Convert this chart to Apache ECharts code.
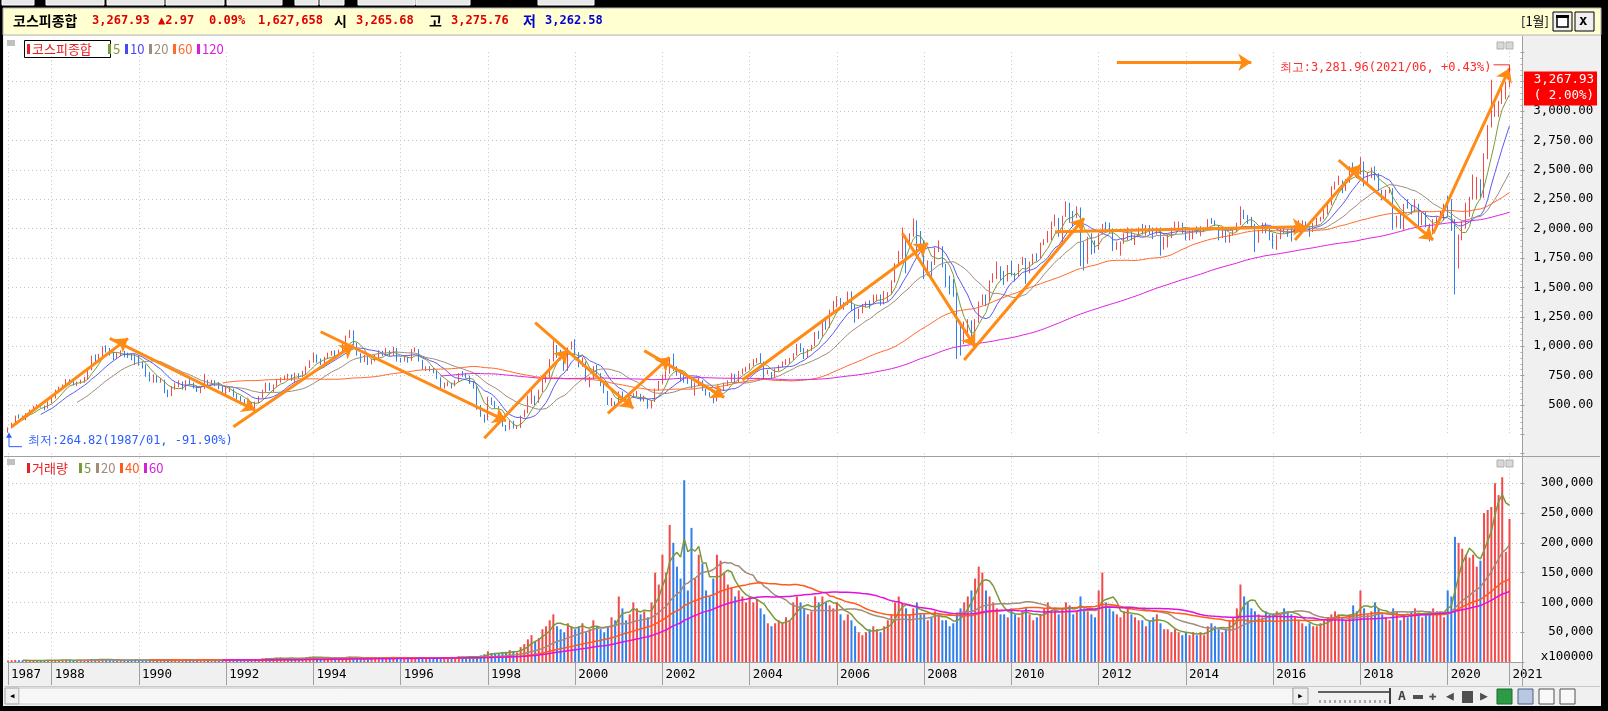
<!DOCTYPE html>
<html>
<head>
<meta charset="utf-8">
<script src="https://cdn.jsdelivr.net/npm/echarts@6/dist/echarts.min.js"></script>
<style>
html,body{margin:0;padding:0;background:#000;}
#box01{width:1608px;height:711px;}
</style>
</head>
<body>
<div id="box01"></div>
<script>
// 코스피종합 월봉 1987/01 ~ 2021/06
var firstOpen = 264.82;
var closes = [
  307,345,405,400,391,423,455,484,496,490,476,525.11,          // 1987
  560,620,640,660,700,690,680,690,700,730,800,907.2,           // 1988
  880,920,990,970,940,910,930,950,925,920,910,909.72,          // 1989
  850,830,760,720,740,700,710,620,580,640,660,696.11,          // 1990
  640,700,680,650,620,640,700,690,700,690,650,610.92,          // 1991
  620,630,580,560,540,520,520,470,520,560,620,678.44,          // 1992
  630,660,700,720,730,750,720,760,740,770,820,866.18,          // 1993
  920,880,860,900,930,950,930,960,1010,1080,1130,1027.37,      // 1994
  930,880,910,850,880,910,950,930,960,930,980,882.94,          // 1995
  880,900,880,960,970,880,810,810,800,790,730,651.22,          // 1996
  680,680,670,700,760,750,740,690,650,470,410,376.31,          // 1997
  560,520,480,400,320,300,360,310,310,400,440,562.46,          // 1998
  570,530,620,720,740,880,1000,950,920,800,980,1028.07,        // 1999
  940,830,860,725,730,820,760,690,610,510,520,504.62,          // 2000
  600,570,520,570,590,590,540,545,480,530,630,693.7,           // 2001
  725,770,880,800,795,740,720,710,650,670,690,627.55,          // 2002
  590,575,535,600,630,670,700,760,700,780,800,810.71,          // 2003
  850,880,880,860,770,770,735,800,835,845,880,895.92,          // 2004
  930,1010,965,912,970,1008,1110,1080,1220,1160,1300,1379.37,  // 2005
  1400,1340,1360,1420,1340,1300,1300,1350,1370,1365,1430,1434.46, // 2006
  1360,1420,1450,1550,1700,1740,1930,1870,1950,2060,1900,1897.13, // 2007
  1625,1710,1700,1830,1850,1675,1595,1475,1450,1113,1076,1124.47, // 2008
  1162,1063,1206,1369,1395,1390,1557,1592,1673,1581,1555,1682.77, // 2009
  1602,1594,1693,1741,1641,1698,1759,1742,1873,1883,1905,2051,    // 2010
  2069,1939,2107,2192,2142,2100,2133,1880,1770,1909,1847,1825.74, // 2011
  1956,2030,2014,1981,1843,1854,1881,1905,1996,1912,1933,1997.05, // 2012
  1961,2026,2005,1963,2001,1863,1914,1926,2005,2040,2045,2011.34, // 2013
  1941,1980,1986,1961,1995,2002,2076,2068,2020,1964,1981,1915.59, // 2014
  1949,1986,2041,2127,2115,2074,2030,1941,1963,2029,1992,1961.31, // 2015
  1912,1917,1996,1994,1983,1970,2016,2035,2044,2008,1983,2026.46, // 2016
  2067,2092,2160,2205,2347,2392,2403,2363,2394,2523,2476,2467.49, // 2017
  2566,2427,2445,2515,2423,2326,2295,2322,2343,2030,2097,2041.04, // 2018
  2205,2195,2141,2204,2041,2131,2025,1968,2063,2083,2088,2197.67, // 2019
  2119,1987,1755,1947,2030,2108,2249,2326,2328,2267,2591,2873.47, // 2020
  2976,3013,3061,3148,3203.92,3267.93                             // 2021
];
var highs = [
  310,350,410,420,410,430,460,492,505,510,495,530,
  570,630,655,675,720,720,705,700,715,740,810,920,
  930,935,1000,1007.77,985,955,945,965,960,945,935,930,
  920,870,845,780,760,750,730,715,630,660,690,710,
  700,710,720,690,665,655,765,715,715,710,695,660,
  660,650,640,595,575,550,535,525,530,575,630,690,
  690,675,715,735,750,765,760,775,770,790,830,880,
  945,930,895,910,945,960,965,970,1025,1090,1138.75,1135,
  1030,940,925,915,895,925,965,960,985,965,995,985,
  900,915,910,975,990,975,885,830,830,815,795,735,
  690,700,690,710,770,790,770,750,700,660,500,420,
  570,565,535,490,405,330,370,365,330,410,460,580,
  630,580,630,730,760,890,1050,1010,970,930,990,1040,
  1060,950,905,870,740,830,840,770,700,620,560,530,
  615,615,580,580,600,620,595,580,550,540,640,705,
  760,790,900,937.61,830,800,770,740,720,690,730,710,
  640,610,580,610,640,690,710,770,765,790,810,825,
  855,890,900,940,870,800,780,810,840,870,890,900,
  940,1020,1025,985,975,1012,1120,1130,1225,1230,1310,1385,
  1425,1410,1375,1465,1465,1350,1320,1360,1380,1390,1440,1440,
  1440,1470,1460,1560,1705,1810,2010,1940,1960,2085.45,2070,1980,
  1900,1730,1720,1840,1900,1850,1700,1600,1570,1460,1200,1210,
  1230,1220,1230,1380,1440,1440,1560,1620,1720,1680,1640,1690,
  1725,1625,1700,1760,1750,1720,1785,1790,1880,1910,1980,2060,
  2120,2090,2110,2231.47,2220,2150,2190,2180,1890,1930,1960,1900,
  1960,2040,2057,2050,2000,1890,1890,1960,2010,2000,1950,2010,
  2040,2030,2030,2010,2010,2010,1930,1950,2010,2060,2060,2050,
  2010,1985,1990,2020,2020,2010,2080,2090,2070,2030,1990,2000,
  1960,1990,2050,2190,2160,2110,2100,2040,1990,2050,2050,2000,
  1960,1950,2000,2020,1990,2020,2030,2070,2070,2060,2010,2050,
  2090,2100,2180,2210,2360,2400,2450,2410,2420,2530,2561,2520,
  2607.1,2570,2480,2520,2530,2470,2330,2330,2350,2340,2110,2130,
  2210,2250,2200,2250,2210,2140,2140,2040,2080,2100,2150,2210,
  2280,2250,2080,1950,2060,2220,2270,2460,2440,2420,2640,2880,
  3266,3100,3085,3220,3250,3281.96
];
var lows = [
  264.82,302,340,385,380,370,415,448,470,478,455,470,
  515,555,610,628,650,670,665,660,680,690,720,795,
  860,865,910,945,920,880,890,915,905,900,880,840,
  835,810,740,700,690,690,690,600,566,575,630,650,
  630,625,670,640,610,600,635,670,675,660,635,600,
  595,610,570,550,530,510,500,459,465,515,555,610,
  620,610,650,690,710,720,705,690,725,735,760,815,
  860,860,840,850,890,920,915,920,950,1000,1070,1010,
  920,860,865,840,845,870,900,915,925,915,920,870,
  860,870,860,875,950,870,800,790,785,770,720,640,
  640,660,640,660,695,740,730,680,640,460,400,350,
  370,500,470,390,315,277.37,290,300,295,305,395,430,
  510,500,520,610,690,730,870,900,880,790,790,970,
  920,820,825,700,650,720,750,660,600,500,490,480,
  500,560,510,490,560,570,530,530,468.76,470,525,620,
  680,720,765,790,750,700,690,680,640,580,660,620,
  580,570,515.24,530,590,620,660,695,685,695,760,780,
  800,830,855,855,720,760,720,730,790,820,840,850,
  880,920,950,890,900,960,1000,1060,1075,1140,1155,1290,
  1330,1320,1310,1350,1300,1200,1230,1280,1330,1320,1360,1380,
  1345,1355,1380,1440,1540,1690,1740,1620,1850,1930,1750,1850,
  1570,1600,1570,1690,1800,1670,1500,1440,1420,892.16,920,1020,
  1100,1018,1060,1200,1350,1340,1380,1540,1570,1555,1520,1550,
  1600,1550,1590,1690,1530,1620,1690,1720,1740,1860,1880,1900,
  2020,1930,1880,2100,2050,2020,2090,1680,1644,1700,1780,1790,
  1820,1950,1990,1960,1810,1820,1770,1870,1900,1900,1860,1930,
  1950,1940,1950,1910,1950,1770,1820,1840,1920,2000,1990,1960,
  1900,1900,1910,1955,1935,1970,1990,2040,2020,1900,1920,1880,
  1880,1940,1970,2030,2080,2040,2010,1800,1880,1960,1960,1900,
  1830,1820,1910,1960,1930,1890,1960,2010,1990,2000,1930,1970,
  2020,2060,2080,2120,2200,2330,2370,2300,2320,2390,2470,2430,
  2460,2360,2390,2430,2410,2320,2240,2250,2300,1990,2010,2000,
  1990,2170,2120,2140,2020,2030,2010,1890,1950,2020,2080,2070,
  2100,1980,1439.43,1660,1900,2000,2100,2250,2250,2260,2260,2590,
  2860,2950,2950,3060,3100,3200
];
// 거래량 (표시 단위)
var volumes = [
  2500,3000,3500,3000,2500,2500,2000,3000,3000,2500,2000,3500,
  3000,3500,3000,3000,3500,3000,2500,2500,3000,3000,4000,5000,
  4500,4000,4500,4000,3500,3000,3000,3500,3000,3000,3000,4000,
  3500,3000,3000,3000,3500,2500,2500,3000,2500,3000,3500,3000,
  3000,3500,3000,3000,3000,3000,4000,3500,3000,3000,3000,3000,
  3500,4000,3500,3500,3000,3000,3500,3000,4500,5000,6000,6500,
  6000,5500,7000,7500,6500,6000,6000,6500,6000,7000,8000,9000,
  9000,7000,6500,7000,7500,7000,6500,7000,8000,8500,9000,7500,
  6500,6000,6500,6000,7000,7000,8000,7000,7500,7000,8000,7000,
  6500,6500,6000,7500,8000,7000,6000,6000,6500,6000,6500,7000,
  7000,7500,7000,8000,9500,9000,8500,8000,8000,10000,11000,13000,
  18000,15000,14000,14000,16000,17000,20000,18000,16000,25000,30000,38000,
  45000,35000,40000,55000,60000,70000,80000,60000,55000,50000,65000,60000,
  55000,60000,65000,50000,55000,70000,60000,55000,50000,60000,75000,70000,
  110000,90000,70000,80000,100000,90000,80000,85000,75000,100000,150000,130000,
  180000,150000,230000,200000,160000,140000,305000,120000,225000,140000,180000,165000,
  120000,110000,140000,180000,170000,150000,130000,125000,110000,120000,110000,100000,
  110000,100000,105000,90000,80000,65000,60000,65000,70000,65000,75000,70000,
  100000,110000,100000,90000,80000,85000,110000,100000,110000,100000,95000,90000,
  100000,80000,70000,80000,70000,60000,50000,45000,50000,55000,60000,55000,
  50000,60000,70000,80000,100000,110000,100000,90000,80000,90000,100000,80000,
  80000,70000,75000,85000,80000,70000,70000,60000,65000,80000,90000,100000,
  110000,120000,140000,160000,150000,120000,110000,100000,90000,80000,80000,75000,
  90000,80000,75000,85000,90000,80000,70000,75000,80000,90000,100000,85000,
  90000,80000,90000,100000,95000,80000,85000,110000,90000,85000,80000,75000,
  120000,150000,100000,90000,85000,80000,75000,85000,90000,80000,75000,70000,
  70000,60000,70000,75000,80000,65000,55000,55000,50000,55000,50000,45000,
  50000,45000,50000,45000,50000,45000,60000,65000,60000,55000,50000,55000,
  70000,75000,90000,130000,110000,100000,90000,85000,80000,75000,85000,80000,
  80000,85000,80000,90000,85000,80000,75000,70000,65000,60000,65000,60000,
  60000,65000,70000,75000,80000,85000,80000,75000,70000,80000,95000,85000,
  120000,90000,80000,85000,100000,90000,80000,75000,70000,90000,85000,70000,
  80000,75000,85000,90000,80000,75000,80000,85000,90000,85000,80000,75000,
  120000,110000,210000,200000,190000,180000,175000,180000,160000,170000,250000,255000,
  260000,300000,280000,310000,185000,240000
];
var xTickMonths = ['1987/01','1988/01','1990/01','1992/01','1994/01','1996/01','1998/01','2000/01',
  '2002/01','2004/01','2006/01','2008/01','2010/01','2012/01','2014/01','2016/01','2018/01','2020/01','2021/06'];
var xTickLabels = ['1987','1988','1990','1992','1994','1996','1998','2000',
  '2002','2004','2006','2008','2010','2012','2014','2016','2018','2020','2021'];
// 추세 화살표 [시작월, 시작가, 끝월, 끝가]
var trendArrows = [
  ['1987/02', 315, '1989/10', 1067],
  ['1989/05', 1067, '1992/09', 457],
  ['1992/03', 315, '1994/12', 1010],
  ['1994/03', 1123, '1998/06', 365],
  ['1997/12', 217, '1999/11', 968],
  ['1999/02', 1200, '2001/05', 472],
  ['2000/10', 429, '2002/03', 906],
  ['2001/08', 962, '2003/06', 565],
  ['2003/11', 712, '2008/02', 1875],
  ['2007/07', 1960, '2009/03', 996],
  ['2008/12', 882, '2011/09', 2088],
  ['2011/01', 1973, '2016/10', 2016],
  ['2016/07', 1903, '2018/01', 2541],
  ['2017/07', 2583, '2019/09', 1903],
  ['2019/09', 1960, '2021/06', 3363],
  ['2012/06', 3414, '2015/07', 3414]
];

var UP = '#f24a4a', DOWN = '#2f7fec';
var FONT_K = '"Noto Sans CJK KR", sans-serif';
var FONT_N = '"DejaVu Sans Mono", monospace';

var months = [];
for (var y = 1987; months.length < closes.length; y++) {
  for (var m = 1; m <= 12 && months.length < closes.length; m++) {
    months.push(y + '/' + (m < 10 ? '0' : '') + m);
  }
}
var xCats = months.concat(['', '', '']);
var tickIdx = xTickMonths.map(function (s) { return months.indexOf(s); });
function isTick(idx) { return tickIdx.indexOf(idx) >= 0; }

// 시가는 전월 종가
var candles = [], volData = [];
for (var i = 0; i < closes.length; i++) {
  var o = i === 0 ? firstOpen : closes[i - 1];
  var c = closes[i];
  candles.push([o, c, Math.min(lows[i], o, c), Math.max(highs[i], o, c)]);
  volData.push({value: volumes[i], itemStyle: {color: c >= o ? UP : DOWN}});
}

function calcMA(dayCount, arr) {
  var result = [];
  for (var i = 0; i < arr.length; i++) {
    if (i < dayCount - 1) { result.push('-'); continue; }
    var sum = 0;
    for (var j = 0; j < dayCount; j++) sum += arr[i - j];
    result.push(+(sum / dayCount).toFixed(2));
  }
  return result;
}

function fmt2(v) {
  return v.toLocaleString('en-US', {minimumFractionDigits: 2, maximumFractionDigits: 2});
}

function maLine(name, period, arr, color, xi, width) {
  return {
    name: name, type: 'line', xAxisIndex: xi, yAxisIndex: xi,
    data: calcMA(period, arr), showSymbol: false, silent: true,
    lineStyle: {color: color, width: width || 1}, z: 3
  };
}

var myChart = echarts.init(document.getElementById('box01'));

// 화면 틀
var frame = [
  {type: 'rect', shape: {x: 3, y: 35, width: 1598, height: 671}, style: {fill: '#f0f0f0'}, z: -20},
  {type: 'rect', shape: {x: 3, y: 8, width: 1598, height: 27}, style: {fill: '#ffffd2', stroke: '#b4b4b4'}, z: -20},
  {type: 'rect', shape: {x: 4, y: 36, width: 1518, height: 420}, style: {fill: '#fff'}, z: -19},
  {type: 'rect', shape: {x: 4, y: 457, width: 1518, height: 205}, style: {fill: '#fff'}, z: -19},
  {type: 'line', shape: {x1: 4, y1: 456.5, x2: 1600, y2: 456.5}, style: {stroke: '#a0a0a0'}, z: 50},
  {type: 'line', shape: {x1: 1522.5, y1: 36, x2: 1522.5, y2: 686}, style: {stroke: '#a0a0a0'}, z: 50},
  {type: 'line', shape: {x1: 4, y1: 686.5, x2: 1600, y2: 686.5}, style: {stroke: '#c8c8c8'}, z: 50}
];
// 상단 탭 조각
[[2, 34], [46, 104], [107, 164], [166, 224], [227, 282], [295, 318], [320, 344], [358, 415], [416, 470], [538, 594]].forEach(function (t) {
  frame.push({type: 'rect', shape: {x: t[0], y: -2, width: t[1] - t[0], height: 7}, style: {fill: '#e8e8e8', stroke: '#fff'}, z: -18});
});

// 헤더
function txt(x, y, s, color, font, extra) {
  var st = {x: x, y: y, text: s, fill: color, font: font, verticalAlign: 'middle', align: 'left'};
  for (var k in extra) st[k] = extra[k];
  return {type: 'text', style: st, z: 60};
}
var hb = 'bold 14px ' + FONT_K, hn = 'bold 12px ' + FONT_N;
frame.push(
  txt(13, 21, '코스피종합', '#000', hb),
  txt(92, 21, '3,267.93', '#e00000', hn),
  txt(158, 21, '▲2.97', '#e00000', hn),
  txt(209, 21, '0.09%', '#e00000', hn),
  txt(258, 21, '1,627,658', '#e00000', hn),
  txt(334, 21, '시', '#000', hb),
  txt(356, 21, '3,265.68', '#e00000', hn),
  txt(429, 21, '고', '#000', hb),
  txt(451, 21, '3,275.76', '#e00000', hn),
  txt(523, 21, '저', '#0000d0', hb),
  txt(545, 21, '3,262.58', '#0000d0', hn),
  txt(1521, 21, '[1월]', '#000', '13px ' + FONT_K),
  {type: 'rect', shape: {x: 1553, y: 12, width: 19, height: 19}, style: {fill: '#f0f0f0', stroke: '#000'}, z: 60},
  {type: 'rect', shape: {x: 1557, y: 16, width: 11, height: 11}, style: {fill: '#fff', stroke: '#000', lineWidth: 1.5}, z: 61},
  {type: 'rect', shape: {x: 1556, y: 15, width: 13, height: 3}, style: {fill: '#000'}, z: 62},
  {type: 'rect', shape: {x: 1575, y: 12, width: 19, height: 19}, style: {fill: '#f0f0f0', stroke: '#000'}, z: 60},
  txt(1579, 21, 'x', '#000', 'bold 14px ' + FONT_N)
);

// 범례
function legendMarks(x, y, items) {
  var out = [];
  items.forEach(function (it) {
    out.push({type: 'rect', shape: {x: x, y: y - 5, width: 3, height: 10}, style: {fill: it[1]}, z: 60});
    x += 5;
    var w = it[2];
    out.push(txt(x, y, it[0], it[1], '13px ' + (it[3] || FONT_K)));
    x += w + 4;
  });
  return out;
}
frame.push(
  {type: 'rect', shape: {x: 7, y: 40, width: 8, height: 6}, style: {fill: '#c0c0c0'}, z: 60},
  {type: 'rect', shape: {x: 24.5, y: 40.5, width: 86, height: 17}, style: {fill: 'none', stroke: '#000'}, z: 60},
  {type: 'rect', shape: {x: 7, y: 459, width: 8, height: 6}, style: {fill: '#c0c0c0'}, z: 60}
);
frame = frame.concat(legendMarks(27, 49, [
  ['코스피종합', '#e82020', 72], ['5', '#7a9a3a', 8], ['10', '#4848f0', 15], ['20', '#a08c78', 15], ['60', '#ff6a2a', 15], ['120', '#d81ed8', 22]
]));
frame = frame.concat(legendMarks(27, 468, [
  ['거래량', '#e82020', 43], ['5', '#7a9a3a', 8], ['20', '#a08c78', 15], ['40', '#ff5a1a', 15], ['60', '#d81ed8', 15]
]));
// 패널 창 버튼
[42, 460].forEach(function (yy) {
  frame.push({type: 'rect', shape: {x: 1497, y: yy, width: 7, height: 7}, style: {fill: '#d8d8d8', stroke: '#b0b0b0'}, z: 60});
  frame.push({type: 'rect', shape: {x: 1506, y: yy, width: 7, height: 7}, style: {fill: '#d8d8d8', stroke: '#b0b0b0'}, z: 60});
});
// 스크롤바
frame.push(
  {type: 'rect', shape: {x: 5, y: 688, width: 14, height: 16}, style: {fill: '#f0f0f0', stroke: '#a0a0a0'}, z: 60},
  txt(9, 696, '◂', '#000', '11px ' + FONT_N),
  {type: 'rect', shape: {x: 19, y: 688, width: 1274, height: 16}, style: {fill: '#f7f7f7', stroke: '#c8c8c8'}, z: 60},
  {type: 'rect', shape: {x: 1293, y: 688, width: 15, height: 16}, style: {fill: '#f0f0f0', stroke: '#a0a0a0'}, z: 60},
  txt(1297, 696, '▸', '#000', '11px ' + FONT_N),
  {type: 'line', shape: {x1: 1318, y1: 692, x2: 1390, y2: 692}, style: {stroke: '#606060', lineWidth: 2}, z: 60},
  {type: 'line', shape: {x1: 1390, y1: 688, x2: 1390, y2: 704}, style: {stroke: '#404040', lineWidth: 2}, z: 60},
  txt(1398, 697, 'A', '#404040', 'bold 13px ' + FONT_N),
  {type: 'rect', shape: {x: 1413, y: 695, width: 10, height: 4}, style: {fill: '#505050'}, z: 60},
  txt(1429, 697, '✚', '#505050', 'bold 13px ' + FONT_N),
  txt(1446, 697, '◀', '#505050', '13px ' + FONT_N),
  {type: 'rect', shape: {x: 1462, y: 691, width: 11, height: 12}, style: {fill: '#505050'}, z: 60},
  txt(1480, 697, '▶', '#505050', '13px ' + FONT_N),
  {type: 'rect', shape: {x: 1497, y: 689, width: 15, height: 15}, style: {fill: '#2d9b45', stroke: '#1a6a2a'}, z: 60},
  {type: 'rect', shape: {x: 1518, y: 689, width: 15, height: 15}, style: {fill: '#b8c8e0', stroke: '#506080'}, z: 60},
  {type: 'rect', shape: {x: 1539, y: 689, width: 15, height: 15}, style: {fill: '#f8f8f8', stroke: '#505050'}, z: 60},
  {type: 'rect', shape: {x: 1560, y: 689, width: 15, height: 15}, style: {fill: '#f8f8f8', stroke: '#505050'}, z: 60}
);
for (var tk = 1320; tk <= 1388; tk += 5) {
  frame.push({type: 'line', shape: {x1: tk, y1: 700, x2: tk, y2: 703}, style: {stroke: '#606060'}, z: 60});
}

var gridL = 8, gridR = 87.6;
var dotted = {show: true, lineStyle: {color: '#c4c4c4', type: [1, 3], width: 1}};

var option = {
  backgroundColor: '#000',
  animation: false,
  graphic: {elements: frame},
  grid: [
    {left: gridL, right: gridR, top: 52.2, height: 382.2},
    {left: gridL, right: gridR, top: 453.4, height: 208.6}
  ],
  xAxis: [
    {
      type: 'category', gridIndex: 0, data: xCats, boundaryGap: false,
      axisLine: {show: false}, axisTick: {show: false}, axisLabel: {show: false},
      splitLine: {show: true, interval: function (idx) { return isTick(idx); }, lineStyle: dotted.lineStyle}
    },
    {
      type: 'category', gridIndex: 1, data: xCats, boundaryGap: false,
      axisLine: {show: true, lineStyle: {color: '#a0a0a0'}},
      axisTick: {show: true, length: 23, interval: function (idx) { return isTick(idx); }, lineStyle: {color: '#a0a0a0'}},
      axisLabel: {
        show: true, interval: function (idx) { return isTick(idx); }, align: 'left', margin: 6,
        padding: [0, 0, 0, 3], fontFamily: FONT_N, fontSize: 12.5, color: '#000',
        formatter: function (val, idx) { var k = tickIdx.indexOf(idx); return k >= 0 ? xTickLabels[k] : ''; }
      },
      splitLine: {show: true, interval: function (idx) { return isTick(idx); }, lineStyle: dotted.lineStyle}
    }
  ],
  yAxis: [
    {
      type: 'value', gridIndex: 0, position: 'right', min: 250, max: 3500, interval: 250,
      axisLine: {show: false},
      axisTick: {show: true, length: 4, inside: false, lineStyle: {color: '#a0a0a0'}},
      minorTick: {show: true, splitNumber: 5, length: 2, lineStyle: {color: '#b0b0b0'}},
      axisLabel: {
        margin: 73, align: 'right', fontFamily: FONT_N, fontSize: 12.5, color: '#000',
        formatter: function (v) { return (v >= 500 && v <= 3000) ? fmt2(v) : ''; }
      },
      splitLine: {show: true, showMinLine: false, showMaxLine: false, lineStyle: dotted.lineStyle}
    },
    {
      type: 'value', gridIndex: 1, position: 'right', min: 0, max: 350000, interval: 50000,
      axisLine: {show: false},
      axisTick: {show: true, length: 4, lineStyle: {color: '#a0a0a0'}},
      axisLabel: {
        margin: 73, align: 'right', fontFamily: FONT_N, fontSize: 12.5, color: '#000',
        formatter: function (v) {
          if (v === 0) return '{u|x100000}';
          return v <= 300000 ? v.toLocaleString('en-US') : '';
        },
        rich: {u: {fontFamily: FONT_N, fontSize: 12.5, color: '#000', padding: [0, 0, 10, 0]}}
      },
      splitLine: {show: true, showMinLine: false, showMaxLine: false, lineStyle: dotted.lineStyle}
    }
  ],
  series: [
    {
      name: '코스피종합', type: 'candlestick', xAxisIndex: 0, yAxisIndex: 0,
      data: candles, barWidth: 1.2, silent: true, z: 2,
      itemStyle: {color: UP, color0: DOWN, borderColor: UP, borderColor0: DOWN, borderWidth: 1}
    },
    maLine('5', 5, closes, '#7a9a3a', 0),
    maLine('10', 10, closes, '#5a5af2', 0),
    maLine('20', 20, closes, '#a08c78', 0),
    maLine('60', 60, closes, '#ff6a2a', 0),
    maLine('120', 120, closes, '#e020e0', 0),
    {
      name: 'trend', type: 'lines', coordinateSystem: 'cartesian2d', xAxisIndex: 0, yAxisIndex: 0,
      clip: false, silent: true, z: 10,
      symbol: ['none', 'arrow'], symbolSize: 13,
      lineStyle: {color: '#ff8a14', width: 3, opacity: 1, curveness: 0},
      data: trendArrows.map(function (a) {
        return {coords: [[months.indexOf(a[0]), a[1]], [months.indexOf(a[2]), a[3]]]};
      })
    },
    {
      name: '거래량', type: 'bar', xAxisIndex: 1, yAxisIndex: 1,
      data: volData, barWidth: 2, silent: true, z: 2
    },
    maLine('v5', 5, volumes, '#7a9a3a', 1, 1.5),
    maLine('v20', 20, volumes, '#a08c78', 1, 1.5),
    maLine('v40', 40, volumes, '#ff5a1a', 1, 1.5),
    maLine('v60', 60, volumes, '#e010e0', 1, 1.5)
  ]
};
myChart.setOption(option);

// 최고 / 최저 표시
var last = closes.length - 1;
var hiIdx = 0, loIdx = 0;
for (i = 0; i < candles.length; i++) {
  if (candles[i][3] > candles[hiIdx][3]) hiIdx = i;
  if (candles[i][2] < candles[loIdx][2]) loIdx = i;
}
var hiVal = candles[hiIdx][3], loVal = candles[loIdx][2];
var pHi = myChart.convertToPixel({gridIndex: 0}, [hiIdx, hiVal]);
var pLo = myChart.convertToPixel({gridIndex: 0}, [loIdx, loVal]);
var pLast = myChart.convertToPixel({gridIndex: 0}, [last, closes[last]]);
var chgHi = (hiVal / closes[last] - 1) * 100;
var chgLo = (loVal / closes[last] - 1) * 100;
var prevChg = (closes[last] / closes[last - 1] - 1) * 100;
var extra = [
  txt(pHi[0] - 18, pHi[1] - 10, '최고:' + fmt2(hiVal) + '(' + months[hiIdx] + ', +' + chgHi.toFixed(2) + '%)', '#ff2a2a', '12px ' + FONT_N, {align: 'right'}),
  {type: 'polyline', shape: {points: [[pHi[0] - 16, pHi[1] - 13], [pHi[0], pHi[1] - 13], [pHi[0], pHi[1] - 6]]}, style: {stroke: '#ff2a2a', fill: 'none'}, z: 60},
  txt(pLo[0] + 20, pLo[1] + 8, '최저:' + fmt2(loVal) + '(' + months[loIdx] + ', ' + chgLo.toFixed(2) + '%)', '#2a5cff', '12px ' + FONT_N),
  {type: 'polyline', shape: {points: [[pLo[0] + 14, pLo[1] + 14], [pLo[0] + 1, pLo[1] + 14], [pLo[0] + 1, pLo[1] + 1]]}, style: {stroke: '#2a5cff', fill: 'none'}, z: 60},
  {type: 'polygon', shape: {points: [[pLo[0] - 2, pLo[1] + 5], [pLo[0] + 4, pLo[1] + 5], [pLo[0] + 1, pLo[1]]]}, style: {fill: '#2a5cff'}, z: 60},
  {type: 'rect', shape: {x: 1524, y: pLast[1] - 8, width: 73, height: 34}, style: {fill: '#ff0000'}, z: 60},
  txt(1594, pLast[1], fmt2(closes[last]), '#fff', '12.5px ' + FONT_N, {align: 'right'}),
  txt(1594, pLast[1] + 16, '( ' + prevChg.toFixed(2) + '%)', '#fff', '12.5px ' + FONT_N, {align: 'right'})
];
myChart.setOption({graphic: {elements: frame.concat(extra)}});
</script>
</body>
</html>
